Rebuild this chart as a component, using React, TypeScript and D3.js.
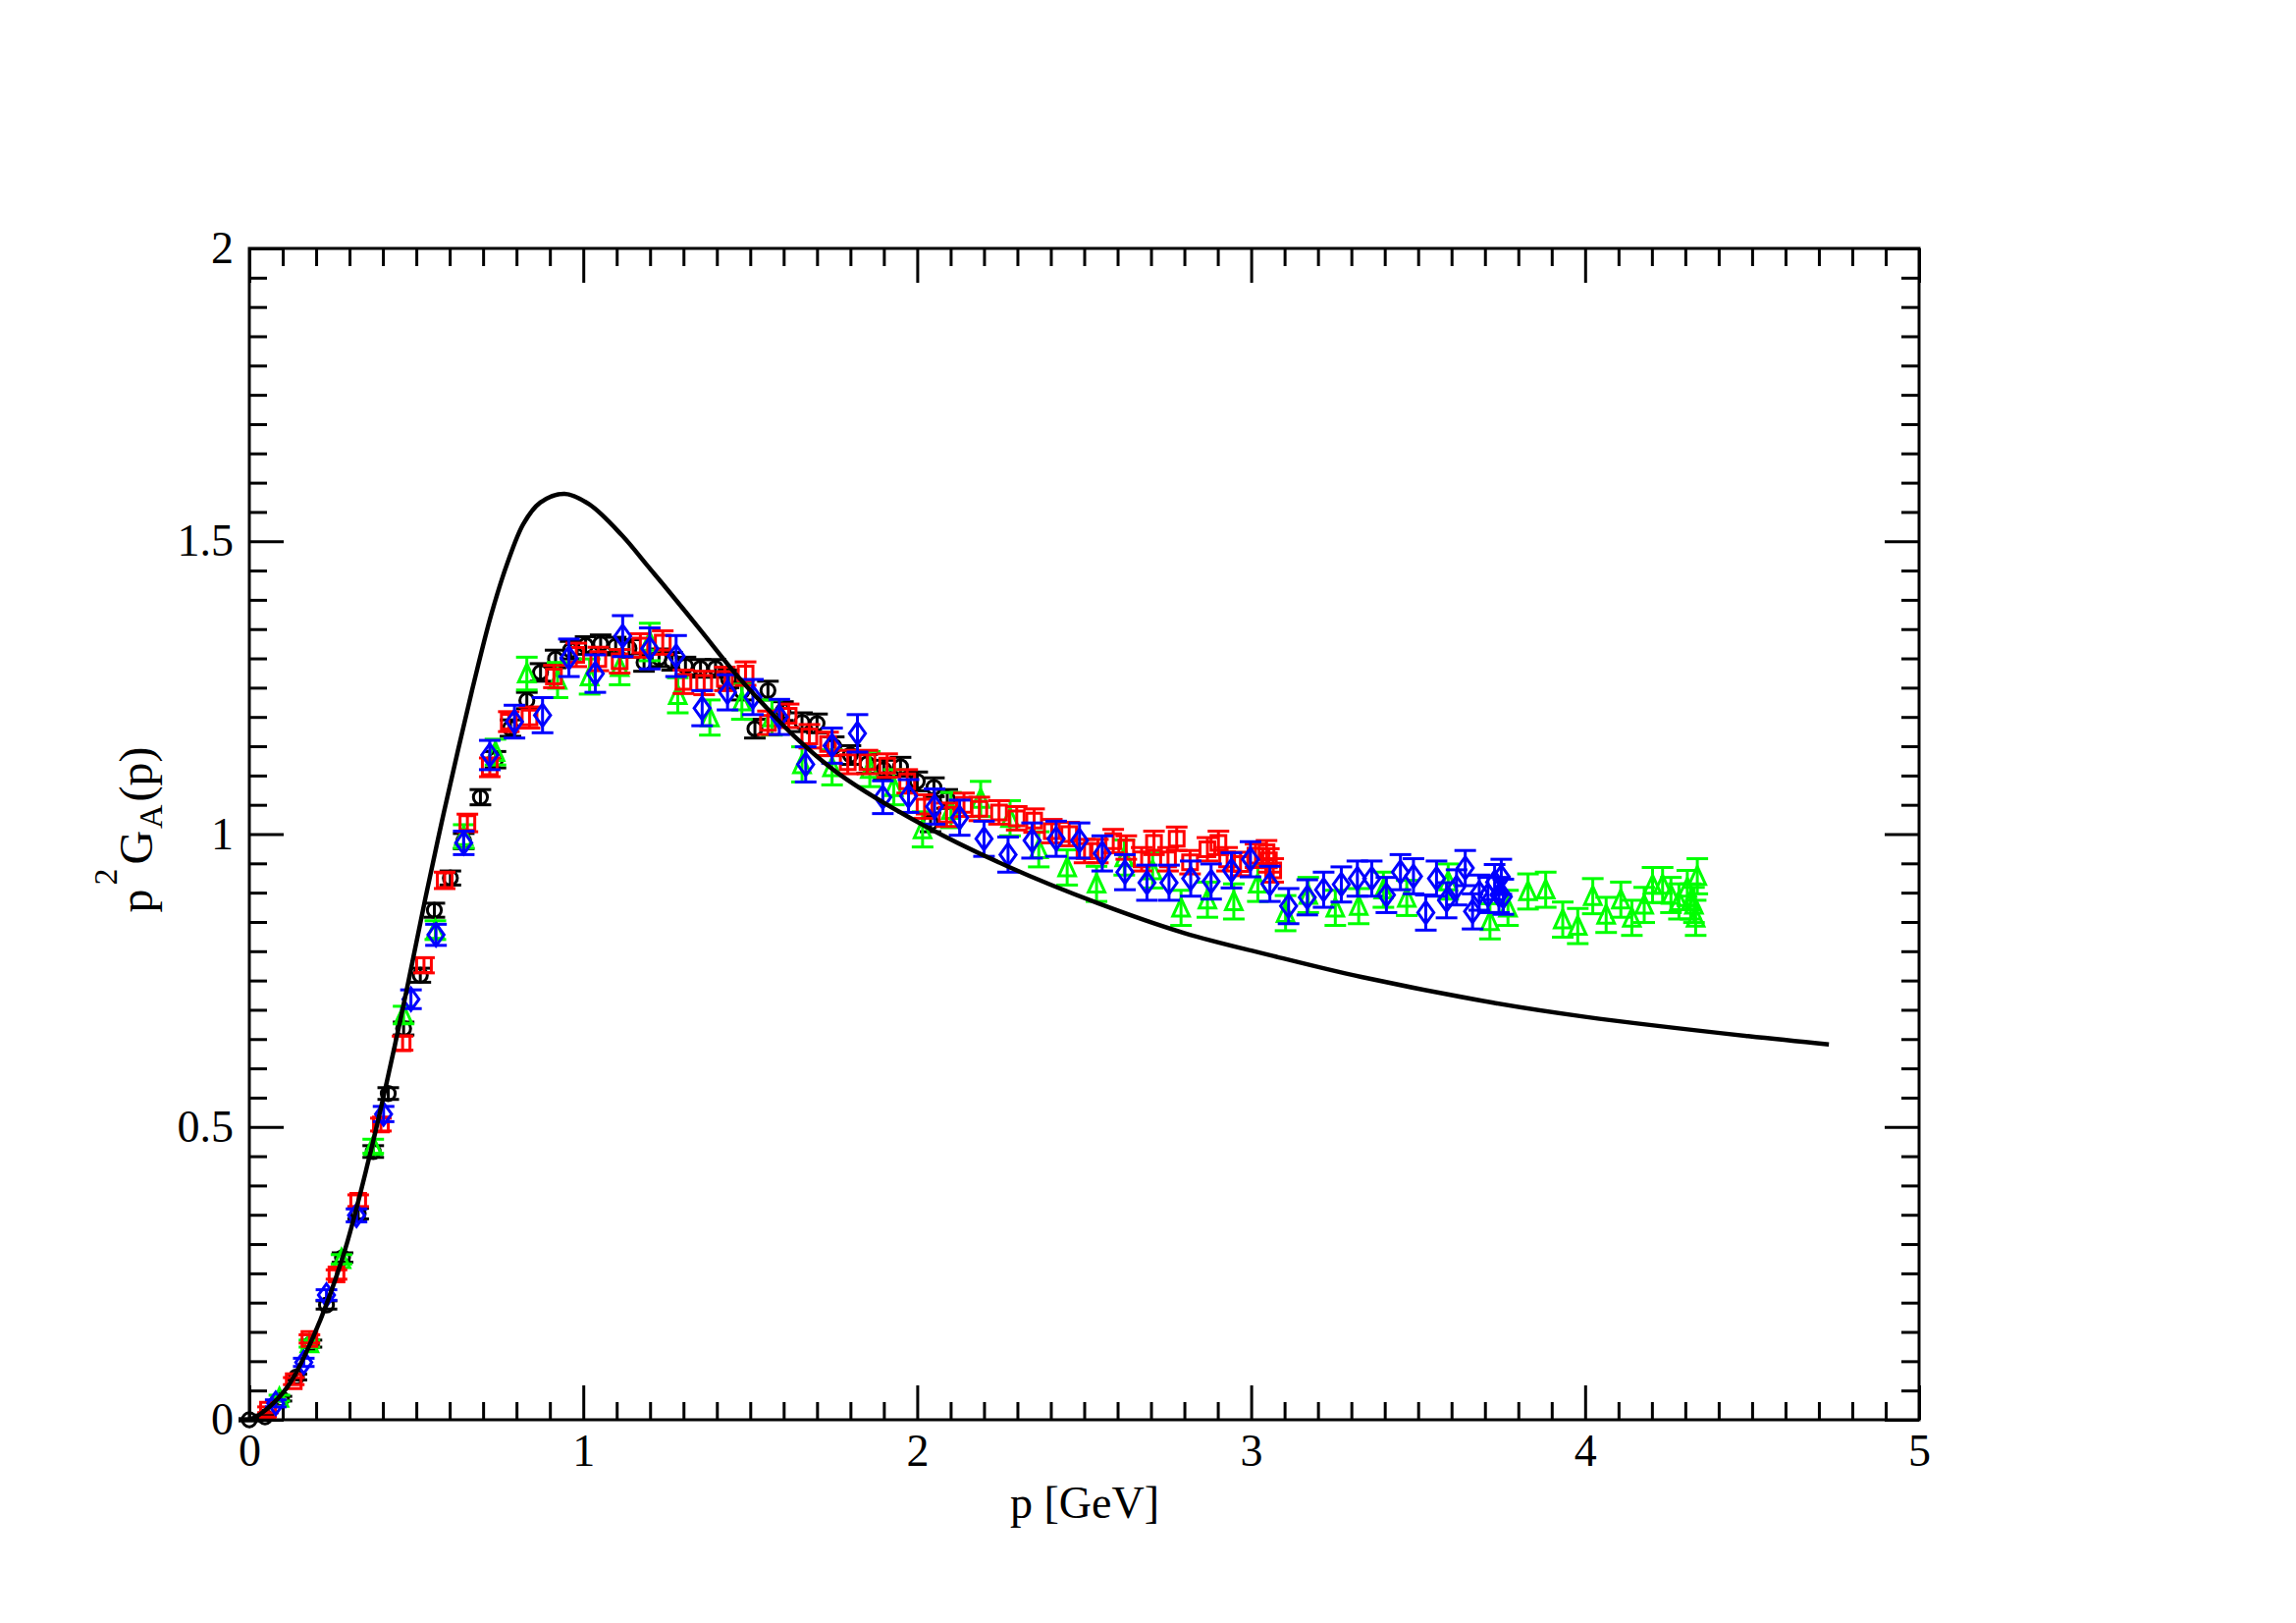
import React, { useEffect, useRef } from 'react';
import * as d3 from 'd3';

// [p, value, error]
type Pt = [number, number, number];

const xTicks = [0, 1, 2, 3, 4, 5];
const yTicks = [0, 0.5, 1, 1.5, 2];
const xMinor = d3.range(0, 51).filter(i => i % 10 !== 0).map(i => i / 10);
const yMinor = d3.range(0, 41).filter(i => i % 10 !== 0).map(i => i / 20);

// model curve
const fitCurve: [number, number][] = [
  [0, 0], [0.034, 0.01], [0.113, 0.055], [0.191, 0.141], [0.281, 0.28],
  [0.36, 0.45], [0.411, 0.575], [0.4735, 0.74], [0.527, 0.89], [0.576, 1.02],
  [0.626, 1.146], [0.674, 1.262], [0.724, 1.374], [0.773, 1.463], [0.821, 1.53],
  [0.871, 1.566], [0.944, 1.581], [1.018, 1.563], [1.116, 1.51], [1.194, 1.457],
  [1.238, 1.427], [1.35, 1.349], [1.463, 1.269], [1.55, 1.215], [1.632, 1.167],
  [1.765, 1.103], [2.016, 1.016], [2.278, 0.943], [2.541, 0.882], [2.8, 0.831],
  [3.066, 0.792], [3.33, 0.756], [3.725, 0.712], [4.0, 0.688], [4.488, 0.655],
  [4.73, 0.641],
];

const blackSet: Pt[] = [
  [0.0, 0.0, 0.002], [0.047, 0.005, 0.003], [0.096, 0.036, 0.004], [0.141, 0.073, 0.005],
  [0.186, 0.13, 0.006], [0.231, 0.196, 0.007], [0.279, 0.277, 0.008], [0.326, 0.352, 0.009],
  [0.371, 0.458, 0.01], [0.416, 0.557, 0.01], [0.462, 0.668, 0.011], [0.512, 0.759, 0.012],
  [0.554, 0.87, 0.012], [0.602, 0.925, 0.012], [0.642, 0.988, 0.013], [0.692, 1.063, 0.013],
  [0.737, 1.127, 0.014], [0.782, 1.181, 0.014], [0.831, 1.228, 0.014], [0.872, 1.276, 0.015],
  [0.917, 1.299, 0.015], [0.962, 1.314, 0.015], [1.007, 1.322, 0.015], [1.052, 1.325, 0.015],
  [1.097, 1.321, 0.015], [1.137, 1.317, 0.015], [1.182, 1.293, 0.015], [1.227, 1.301, 0.015],
  [1.266, 1.295, 0.015], [1.306, 1.287, 0.015], [1.351, 1.283, 0.015], [1.396, 1.283, 0.015],
  [1.435, 1.265, 0.015], [1.475, 1.244, 0.015], [1.514, 1.18, 0.016], [1.553, 1.245, 0.016],
  [1.598, 1.21, 0.016], [1.655, 1.191, 0.016], [1.7, 1.189, 0.016], [1.75, 1.15, 0.016],
  [1.8, 1.135, 0.016], [1.85, 1.12, 0.016], [1.9, 1.11, 0.016], [1.95, 1.115, 0.016],
  [2.0, 1.09, 0.016], [2.04, 1.02, 0.016], [2.05, 1.08, 0.016], [2.09, 1.06, 0.016],
];

const greenSet: Pt[] = [
  [0.09, 0.037, 0.005], [0.18, 0.13, 0.006], [0.276, 0.274, 0.008], [0.371, 0.467, 0.012],
  [0.462, 0.691, 0.015], [0.557, 0.836, 0.016], [0.642, 0.996, 0.02], [0.737, 1.14, 0.022],
  [0.831, 1.274, 0.028], [0.923, 1.263, 0.03], [1.019, 1.269, 0.03], [1.109, 1.285, 0.03],
  [1.199, 1.328, 0.032], [1.283, 1.237, 0.03], [1.379, 1.199, 0.03], [1.475, 1.226, 0.03],
  [1.565, 1.199, 0.03], [1.655, 1.119, 0.03], [1.745, 1.114, 0.03], [1.858, 1.111, 0.03],
  [1.93, 1.08, 0.03], [2.016, 1.008, 0.03], [2.101, 1.041, 0.03], [2.19, 1.06, 0.03],
  [2.278, 1.027, 0.03], [2.364, 0.974, 0.03], [2.449, 0.943, 0.03], [2.537, 0.915, 0.03],
  [2.62, 0.96, 0.03], [2.705, 0.938, 0.03], [2.79, 0.874, 0.03], [2.869, 0.888, 0.03],
  [2.948, 0.885, 0.03], [3.02, 0.915, 0.03], [3.103, 0.865, 0.03], [3.171, 0.896, 0.03],
  [3.252, 0.874, 0.03], [3.322, 0.877, 0.03], [3.396, 0.905, 0.03], [3.466, 0.891, 0.03],
  [3.59, 0.919, 0.03], [3.715, 0.851, 0.03], [3.769, 0.874, 0.03], [3.829, 0.902, 0.03],
  [3.882, 0.905, 0.03], [3.933, 0.854, 0.03], [3.978, 0.843, 0.03], [4.023, 0.894, 0.03],
  [4.063, 0.862, 0.03], [4.107, 0.888, 0.03], [4.14, 0.857, 0.03], [4.177, 0.879, 0.03],
  [4.202, 0.913, 0.03], [4.232, 0.913, 0.03], [4.257, 0.896, 0.03], [4.281, 0.885, 0.03],
  [4.306, 0.908, 0.03], [4.316, 0.885, 0.03], [4.326, 0.879, 0.03], [4.331, 0.857, 0.03],
  [4.336, 0.928, 0.03],
];

const redSet: Pt[] = [
  [0.056, 0.017, 0.005], [0.133, 0.066, 0.006], [0.18, 0.138, 0.007], [0.261, 0.248, 0.008],
  [0.326, 0.374, 0.01], [0.394, 0.504, 0.011], [0.459, 0.643, 0.012], [0.523, 0.776, 0.013],
  [0.585, 0.921, 0.014], [0.653, 1.019, 0.015], [0.72, 1.114, 0.016], [0.777, 1.192, 0.017],
  [0.839, 1.199, 0.018], [0.912, 1.269, 0.019], [0.979, 1.306, 0.02], [1.045, 1.299, 0.02],
  [1.109, 1.295, 0.02], [1.171, 1.322, 0.02], [1.238, 1.327, 0.02], [1.3, 1.26, 0.02],
  [1.362, 1.258, 0.02], [1.424, 1.265, 0.02], [1.486, 1.274, 0.02], [1.553, 1.19, 0.02],
  [1.615, 1.202, 0.02], [1.677, 1.167, 0.02], [1.733, 1.154, 0.02], [1.792, 1.123, 0.02],
  [1.851, 1.123, 0.02], [1.91, 1.117, 0.02], [1.97, 1.09, 0.02], [2.022, 1.047, 0.02],
  [2.088, 1.033, 0.02], [2.14, 1.05, 0.02], [2.186, 1.043, 0.02], [2.245, 1.037, 0.02],
  [2.298, 1.027, 0.02], [2.35, 1.023, 0.02], [2.403, 1.005, 0.02], [2.455, 1.0, 0.02],
  [2.501, 0.971, 0.02], [2.541, 0.971, 0.02], [2.587, 0.988, 0.02], [2.626, 0.977, 0.02],
  [2.672, 0.957, 0.02], [2.709, 0.985, 0.02], [2.751, 0.957, 0.02], [2.777, 0.992, 0.02],
  [2.817, 0.952, 0.02], [2.869, 0.974, 0.02], [2.902, 0.985, 0.02], [2.928, 0.957, 0.02],
  [2.968, 0.949, 0.02], [3.013, 0.963, 0.02], [3.046, 0.969, 0.02], [3.053, 0.955, 0.02],
  [3.066, 0.938, 0.02],
];

const blueSet: Pt[] = [
  [0.079, 0.028, 0.006], [0.163, 0.098, 0.007], [0.231, 0.213, 0.009], [0.321, 0.349, 0.011],
  [0.402, 0.522, 0.013], [0.484, 0.718, 0.016], [0.559, 0.828, 0.018], [0.642, 0.985, 0.02],
  [0.72, 1.135, 0.025], [0.794, 1.192, 0.028], [0.878, 1.203, 0.03], [0.957, 1.301, 0.032],
  [1.036, 1.274, 0.032], [1.118, 1.338, 0.035], [1.199, 1.317, 0.035], [1.278, 1.304, 0.035],
  [1.356, 1.215, 0.03], [1.432, 1.242, 0.03], [1.508, 1.234, 0.03], [1.587, 1.2, 0.03],
  [1.666, 1.119, 0.03], [1.745, 1.151, 0.03], [1.821, 1.172, 0.032], [1.897, 1.063, 0.028],
  [1.974, 1.065, 0.028], [2.052, 1.047, 0.03], [2.127, 1.028, 0.03], [2.2, 0.992, 0.03],
  [2.272, 0.965, 0.03], [2.344, 0.989, 0.03], [2.416, 0.992, 0.03], [2.486, 0.989, 0.03],
  [2.554, 0.967, 0.03], [2.622, 0.935, 0.03], [2.688, 0.917, 0.03], [2.754, 0.917, 0.03],
  [2.819, 0.924, 0.03], [2.88, 0.919, 0.03], [2.941, 0.938, 0.03], [2.998, 0.957, 0.03],
  [3.056, 0.915, 0.03], [3.112, 0.877, 0.03], [3.168, 0.892, 0.03], [3.217, 0.905, 0.03],
  [3.27, 0.914, 0.03], [3.318, 0.924, 0.03], [3.361, 0.924, 0.03], [3.405, 0.896, 0.03],
  [3.447, 0.935, 0.03], [3.486, 0.928, 0.03], [3.523, 0.866, 0.03], [3.555, 0.924, 0.03],
  [3.585, 0.887, 0.03], [3.615, 0.909, 0.03], [3.641, 0.942, 0.03], [3.663, 0.868, 0.03],
  [3.683, 0.9, 0.03], [3.709, 0.896, 0.03], [3.729, 0.918, 0.03], [3.742, 0.896, 0.03],
  [3.749, 0.927, 0.03], [3.755, 0.893, 0.03],
];

const W = 2339;
const H = 1653;
const FONT = "'Liberation Serif', 'Times New Roman', serif";

// tall diamond like the xmgrace one
const diamond = {
  draw(ctx: any, size: number) {
    const h = Math.sqrt(size) * 0.75;
    const w = h * 0.72;
    ctx.moveTo(0, -h);
    ctx.lineTo(w, 0);
    ctx.lineTo(0, h);
    ctx.lineTo(-w, 0);
    ctx.closePath();
  },
};

// triangle a bit taller than equilateral
const triangle = {
  draw(ctx: any, size: number) {
    const h = Math.sqrt(size) * 0.7;
    ctx.moveTo(0, -h);
    ctx.lineTo(h * 0.85, h * 0.85);
    ctx.lineTo(-h * 0.85, h * 0.85);
    ctx.closePath();
  },
};

const App: React.FC = () => {
  const ref = useRef<SVGSVGElement>(null);

  useEffect(() => {
    if (!ref.current) return;
    const svg = d3.select(ref.current);
    svg.selectAll('*').remove();

    const x = d3.scaleLinear().domain([0, 5]).range([254, 1955]);
    const y = d3.scaleLinear().domain([0, 2]).range([1446, 253]);

    svg.append('rect').attr('width', W).attr('height', H).attr('fill', '#fff');

    // axes, ticks point inward on all four sides
    const styleAxis = (g: any, labels: boolean) => {
      g.select('.domain').remove();
      g.selectAll('line').attr('stroke', '#000').attr('stroke-width', 3);
      g.selectAll('text')
        .attr('fill', '#000')
        .style('font-family', FONT)
        .style('font-size', '46px');
      if (!labels) g.selectAll('text').remove();
    };
    const fmt = (d: any) => String(d);

    svg.append('g').attr('transform', 'translate(0,1446)')
      .call(d3.axisBottom(x).tickValues(xTicks).tickSize(-35).tickPadding(14).tickFormat(fmt))
      .call(styleAxis, true);
    svg.append('g').attr('transform', 'translate(0,1446)')
      .call(d3.axisBottom(x).tickValues(xMinor).tickSize(-18))
      .call(styleAxis, false);
    svg.append('g').attr('transform', 'translate(0,253)')
      .call(d3.axisTop(x).tickValues(xTicks).tickSize(-35))
      .call(styleAxis, false);
    svg.append('g').attr('transform', 'translate(0,253)')
      .call(d3.axisTop(x).tickValues(xMinor).tickSize(-18))
      .call(styleAxis, false);
    svg.append('g').attr('transform', 'translate(254,0)')
      .call(d3.axisLeft(y).tickValues(yTicks).tickSize(-35).tickPadding(16).tickFormat(fmt))
      .call(styleAxis, true);
    svg.append('g').attr('transform', 'translate(254,0)')
      .call(d3.axisLeft(y).tickValues(yMinor).tickSize(-18))
      .call(styleAxis, false);
    svg.append('g').attr('transform', 'translate(1955,0)')
      .call(d3.axisRight(y).tickValues(yTicks).tickSize(-35))
      .call(styleAxis, false);
    svg.append('g').attr('transform', 'translate(1955,0)')
      .call(d3.axisRight(y).tickValues(yMinor).tickSize(-18))
      .call(styleAxis, false);

    svg.append('rect')
      .attr('x', 254).attr('y', 253)
      .attr('width', 1955 - 254).attr('height', 1446 - 253)
      .attr('fill', 'none').attr('stroke', '#000').attr('stroke-width', 3);

    // data sets with error bars
    const sets: { data: Pt[]; color: string; symbol: any; size: number }[] = [
      { data: blackSet, color: '#000000', symbol: d3.symbolCircle, size: 160 },
      { data: greenSet, color: '#00ff00', symbol: triangle, size: 200 },
      { data: redSet, color: '#ff0000', symbol: d3.symbolSquare, size: 225 },
      { data: blueSet, color: '#0000ff', symbol: diamond, size: 230 },
    ];
    const cap = 11;

    sets.forEach(s => {
      const g = svg.append('g')
        .attr('stroke', s.color).attr('stroke-width', 3).attr('fill', 'none');
      const pts = g.selectAll('g.pt').data(s.data).enter().append('g').attr('class', 'pt');
      pts.append('line')
        .attr('x1', d => x(d[0])).attr('x2', d => x(d[0]))
        .attr('y1', d => y(d[1] - d[2])).attr('y2', d => y(d[1] + d[2]));
      pts.append('line')
        .attr('x1', d => x(d[0]) - cap).attr('x2', d => x(d[0]) + cap)
        .attr('y1', d => y(d[1] + d[2])).attr('y2', d => y(d[1] + d[2]));
      pts.append('line')
        .attr('x1', d => x(d[0]) - cap).attr('x2', d => x(d[0]) + cap)
        .attr('y1', d => y(d[1] - d[2])).attr('y2', d => y(d[1] - d[2]));
      pts.append('path')
        .attr('transform', d => `translate(${x(d[0])},${y(d[1])})`)
        .attr('d', d3.symbol().type(s.symbol).size(s.size)() as string);
    });

    // model curve
    const line = d3.line<[number, number]>()
      .x(d => x(d[0]))
      .y(d => y(d[1]))
      .curve(d3.curveCatmullRom.alpha(0.5));
    svg.append('path')
      .datum(fitCurve)
      .attr('d', line)
      .attr('fill', 'none')
      .attr('stroke', '#000')
      .attr('stroke-width', 4.5);

    // axis titles
    svg.append('text')
      .attr('x', 1105).attr('y', 1546)
      .attr('text-anchor', 'middle')
      .style('font-family', FONT).style('font-size', '46px')
      .text('p [GeV]');

    const yt = svg.append('text')
      .attr('transform', 'translate(155,845) rotate(-90)')
      .attr('text-anchor', 'middle')
      .style('font-family', FONT).style('font-size', '48px');
    yt.append('tspan').text('p');
    yt.append('tspan').attr('dx', 4).attr('dy', -36).style('font-size', '34px').text('2');
    yt.append('tspan').attr('dx', 4).attr('dy', 36).text('G');
    yt.append('tspan').attr('dx', 2).attr('dy', 10).style('font-size', '34px').text('A');
    yt.append('tspan').attr('dx', 3).attr('dy', -10).text('(p)');
  }, []);

  return (
    <svg
      ref={ref}
      width={W}
      height={H}
      style={{ position: 'absolute', left: 0, top: 0, display: 'block' }}
    />
  );
};

export default App;
